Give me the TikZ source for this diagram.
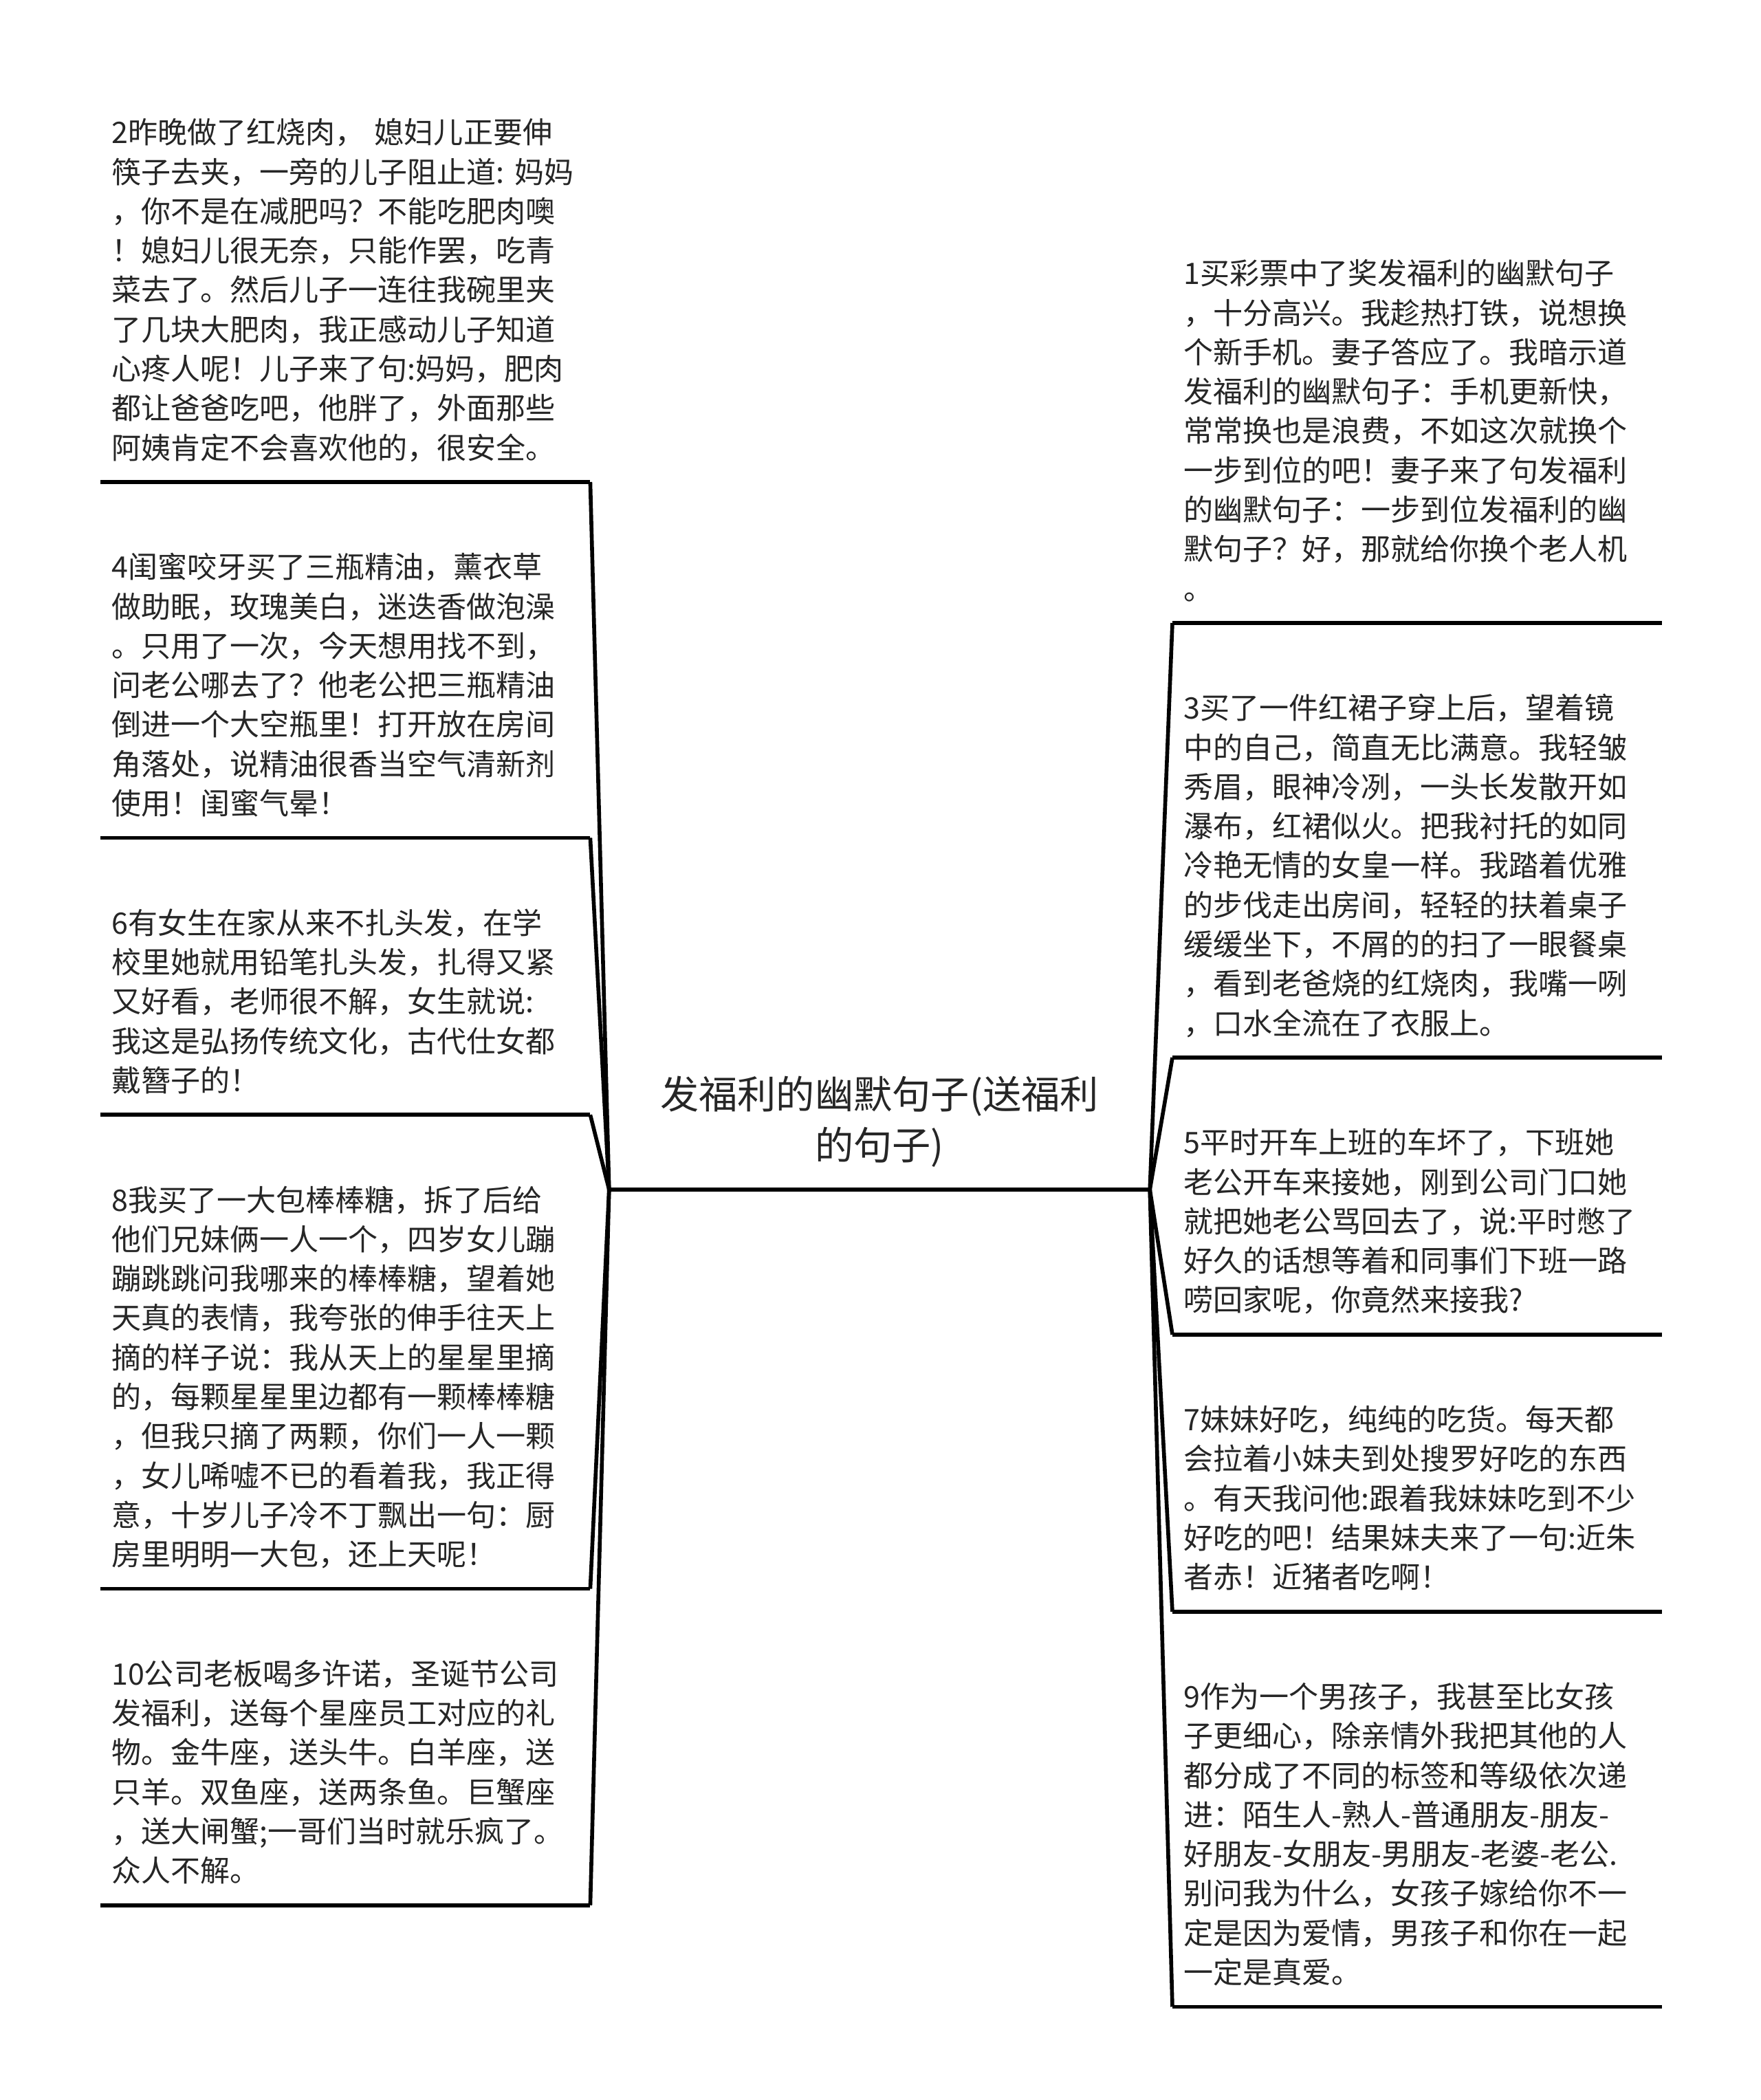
\documentclass[tikz,border=0pt]{standalone}
\usepackage{fontspec}
\setmainfont{Noto Sans CJK SC}
\usetikzlibrary{positioning}

\begin{document}
\begin{tikzpicture}[
    x=1mm, y=1mm,
    node distance=8.3mm,
    every node/.style={text=black!85},
    leaf/.style={text width=68mm, inner xsep=1.55mm, inner ysep=1.6mm, align=left,
        font=\fontsize{12.25}{16.3}\selectfont, execute at begin node=\strut, execute at end node=\strut},
    topic/.style={text width=74.5mm, inner xsep=2mm, inner ysep=2.1mm, align=center,
        font=\fontsize{16}{21}\selectfont, execute at begin node=\strut, execute at end node=\strut},
    rule/.style={line width=1.6pt}
]
\useasboundingbox (0,0) rectangle (256,-305.4);

\node[topic, anchor=south] (root) at (127.9,-173.0) {发福利的幽默句子(送福利\\的句子)};

% left column
\node[leaf, anchor=south west] (l2) at (14.6,-70.1) {2昨晚做了红烧肉，~媳妇儿正要伸\\筷子去夹，一旁的儿子阻止道:~妈妈\\，你不是在减肥吗？不能吃肥肉噢\\！媳妇儿很无奈，只能作罢，吃青\\菜去了。然后儿子一连往我碗里夹\\了几块大肥肉，我正感动儿子知道\\心疼人呢！儿子来了句:妈妈，肥肉\\都让爸爸吃吧，他胖了，外面那些\\阿姨肯定不会喜欢他的，很安全。};
\node[leaf, below=of l2] (l4) {4闺蜜咬牙买了三瓶精油，薰衣草\\做助眠，玫瑰美白，迷迭香做泡澡\\。只用了一次，今天想用找不到，\\问老公哪去了？他老公把三瓶精油\\倒进一个大空瓶里！打开放在房间\\角落处，说精油很香当空气清新剂\\使用！闺蜜气晕！};
\node[leaf, below=of l4] (l6) {6有女生在家从来不扎头发，在学\\校里她就用铅笔扎头发，扎得又紧\\又好看，老师很不解，女生就说:\\我这是弘扬传统文化，古代仕女都\\戴簪子的！};
\node[leaf, below=of l6] (l8) {8我买了一大包棒棒糖，拆了后给\\他们兄妹俩一人一个，四岁女儿蹦\\蹦跳跳问我哪来的棒棒糖，望着她\\天真的表情，我夸张的伸手往天上\\摘的样子说：我从天上的星星里摘\\的，每颗星星里边都有一颗棒棒糖\\，但我只摘了两颗，你们一人一颗\\，女儿唏嘘不已的看着我，我正得\\意，十岁儿子冷不丁飘出一句：厨\\房里明明一大包，还上天呢！};
\node[leaf, below=of l8] (l10) {10公司老板喝多许诺，圣诞节公司\\发福利，送每个星座员工对应的礼\\物。金牛座，送头牛。白羊座，送\\只羊。双鱼座，送两条鱼。巨蟹座\\，送大闸蟹;一哥们当时就乐疯了。\\众人不解。};

% right column
\node[leaf, anchor=south west] (r1) at (170.5,-90.6) {1买彩票中了奖发福利的幽默句子\\，十分高兴。我趁热打铁，说想换\\个新手机。妻子答应了。我暗示道\\发福利的幽默句子：手机更新快，\\常常换也是浪费，不如这次就换个\\一步到位的吧！妻子来了句发福利\\的幽默句子：一步到位发福利的幽\\默句子？好，那就给你换个老人机\\。};
\node[leaf, below=of r1] (r3) {3买了一件红裙子穿上后，望着镜\\中的自己，简直无比满意。我轻皱\\秀眉，眼神冷冽，一头长发散开如\\瀑布，红裙似火。把我衬托的如同\\冷艳无情的女皇一样。我踏着优雅\\的步伐走出房间，轻轻的扶着桌子\\缓缓坐下，不屑的的扫了一眼餐桌\\，看到老爸烧的红烧肉，我嘴一咧\\，口水全流在了衣服上。};
\node[leaf, below=of r3] (r5) {5平时开车上班的车坏了，下班她\\老公开车来接她，刚到公司门口她\\就把她老公骂回去了，说:平时憋了\\好久的话想等着和同事们下班一路\\唠回家呢，你竟然来接我?};
\node[leaf, below=of r5] (r7) {7妹妹好吃，纯纯的吃货。每天都\\会拉着小妹夫到处搜罗好吃的东西\\。有天我问他:跟着我妹妹吃到不少\\好吃的吧！结果妹夫来了一句:近朱\\者赤！近猪者吃啊！};
\node[leaf, below=of r7] (r9) {9作为一个男孩子，我甚至比女孩\\子更细心，除亲情外我把其他的人\\都分成了不同的标签和等级依次递\\进：陌生人-熟人-普通朋友-朋友-\\好朋友-女朋友-男朋友-老婆-老公.\\别问我为什么，女孩子嫁给你不一\\定是因为爱情，男孩子和你在一起\\一定是真爱。};

% underlines
\foreach \n in {root,l2,l4,l6,l8,l10,r1,r3,r5,r7,r9}
    \draw[rule] (\n.south west) -- (\n.south east);

% connectors
\foreach \n in {l2,l4,l6,l8,l10}
    \draw[rule] (root.south west) -- (\n.south east);
\foreach \n in {r1,r3,r5,r7,r9}
    \draw[rule] (root.south east) -- (\n.south west);
\end{tikzpicture}
\end{document}
